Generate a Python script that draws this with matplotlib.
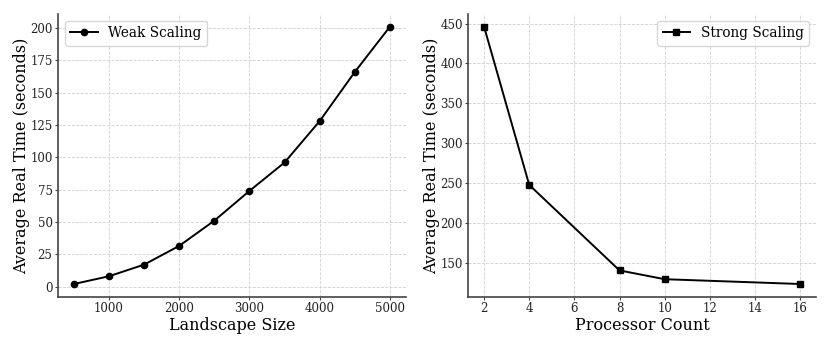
import matplotlib.pyplot as plt

# weak scaling data
landscape_size = [500, 1000, 1500, 2000, 2500, 3000, 3500, 4000, 4500, 5000]
weak_time = [2, 8, 17, 31.5, 51, 74, 96, 128, 166, 201]

# strong scaling data
processors = [2, 4, 8, 10, 16]
strong_time = [446, 248, 141, 130, 124]

plt.rcParams["font.family"] = "DejaVu Serif"

fig, axes = plt.subplots(1, 2, figsize=(8.3, 3.46), dpi=100)

ax = axes[0]
ax.plot(landscape_size, weak_time, marker="o", markersize=4.5, linewidth=1.4,
        color="black", label="Weak Scaling")
ax.set_xlabel("Landscape Size", fontsize=11.5, labelpad=1)
ax.set_ylabel("Average Real Time (seconds)", fontsize=11.5, labelpad=0)
ax.set_yticks(range(0, 201, 25))
ax.legend(loc="upper left", fontsize=9.8)

ax = axes[1]
ax.plot(processors, strong_time, marker="s", markersize=4.5, linewidth=1.4,
        color="black", label="Strong Scaling")
ax.set_xlabel("Processor Count", fontsize=11.5, labelpad=1)
ax.set_ylabel("Average Real Time (seconds)", fontsize=11.5, labelpad=0)
ax.set_xticks(range(2, 17, 2))
ax.legend(loc="upper right", fontsize=9.8)

for ax in axes:
    ax.grid(True, linestyle="--", linewidth=0.6, color="#d0d0d0")
    ax.spines["top"].set_visible(False)
    ax.spines["right"].set_visible(False)
    for side in ["left", "bottom"]:
        ax.spines[side].set_color("#444444")
        ax.spines[side].set_linewidth(1.2)
    ax.tick_params(labelsize=8.5, length=2.5, pad=1.5, color="#444444",
                   labelcolor="#222222")

fig.subplots_adjust(left=0.07, right=0.983, bottom=0.142, top=0.96, wspace=0.18)
plt.savefig("out.png", dpi=100)
